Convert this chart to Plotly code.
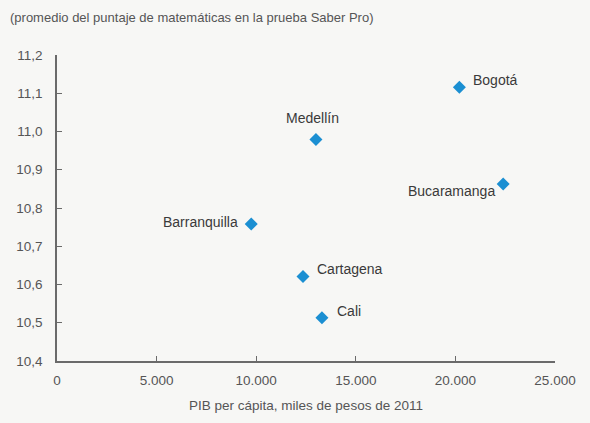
import plotly.graph_objects as go

cities = ["Bogotá", "Medellín", "Bucaramanga", "Barranquilla", "Cartagena", "Cali"]
pib = [20200, 13000, 22400, 9750, 12350, 13300]
puntaje = [11.116, 10.979, 10.863, 10.758, 10.621, 10.513]

# label placement (style only)
lab_anchor = ["left", "center", "right", "right", "left", "left"]
lab_dx = [12, -3, -6, -11, 12, 13]
lab_dy = [7, 22, -7, 2, 7, 7]

x_ticks = [0, 5000, 10000, 15000, 20000, 25000]
y_ticks = [10.4, 10.5, 10.6, 10.7, 10.8, 10.9, 11.0, 11.1, 11.2]

font_family = "Liberation Sans, Arial, sans-serif"
grey = "#555555"

fig = go.Figure()
fig.add_trace(go.Scatter(
    x=pib, y=puntaje, mode="markers",
    marker=dict(symbol="diamond", size=10, color="#1b8fd2"),
    hoverinfo="text", text=cities, showlegend=False,
))

for c, xv, yv, a, dx, dy in zip(cities, pib, puntaje, lab_anchor, lab_dx, lab_dy):
    fig.add_annotation(x=xv, y=yv, text=c, showarrow=False, xanchor=a, yanchor="middle",
                       xshift=dx, yshift=dy, font=dict(family=font_family, size=14, color="#3a3a3a"))

fig.add_annotation(xref="paper", yref="paper", x=-49/498, y=1 + 38/306, xanchor="left", yanchor="middle",
                   text="(promedio del puntaje de matemáticas en la prueba Saber Pro)", showarrow=False,
                   font=dict(family=font_family, size=13, color=grey))

fig.update_layout(
    width=590, height=423,
    margin=dict(l=57, r=35, t=55, b=62),
    paper_bgcolor="#f7f7f5", plot_bgcolor="rgba(0,0,0,0)",
    separators=",.",
    font=dict(family=font_family, size=13, color=grey),
)
fig.update_xaxes(
    range=[0, 25000], tickvals=x_ticks, tickformat=",d",
    showgrid=False, zeroline=False, showline=True, linecolor="#6a6a6a", linewidth=1.5,
    ticks="inside", ticklen=5, tickcolor="#6a6a6a", ticklabelstandoff=6,
    title=dict(text="PIB per cápita, miles de pesos de 2011", font=dict(size=13.5, color=grey), standoff=14),
    tickfont=dict(size=13.5, color=grey),
)
fig.update_yaxes(
    range=[10.4, 11.2], tickvals=y_ticks, tickformat=".1f",
    showgrid=False, zeroline=False, showline=True, linecolor="#6a6a6a", linewidth=1.5,
    ticks="inside", ticklen=5, tickcolor="#6a6a6a", ticklabelstandoff=10,
    tickfont=dict(size=13.5, color=grey),
)

fig.write_html("out.html", config={"displayModeBar": False},
               post_script="document.body.style.margin='0';document.body.style.background='#f7f7f5';")
